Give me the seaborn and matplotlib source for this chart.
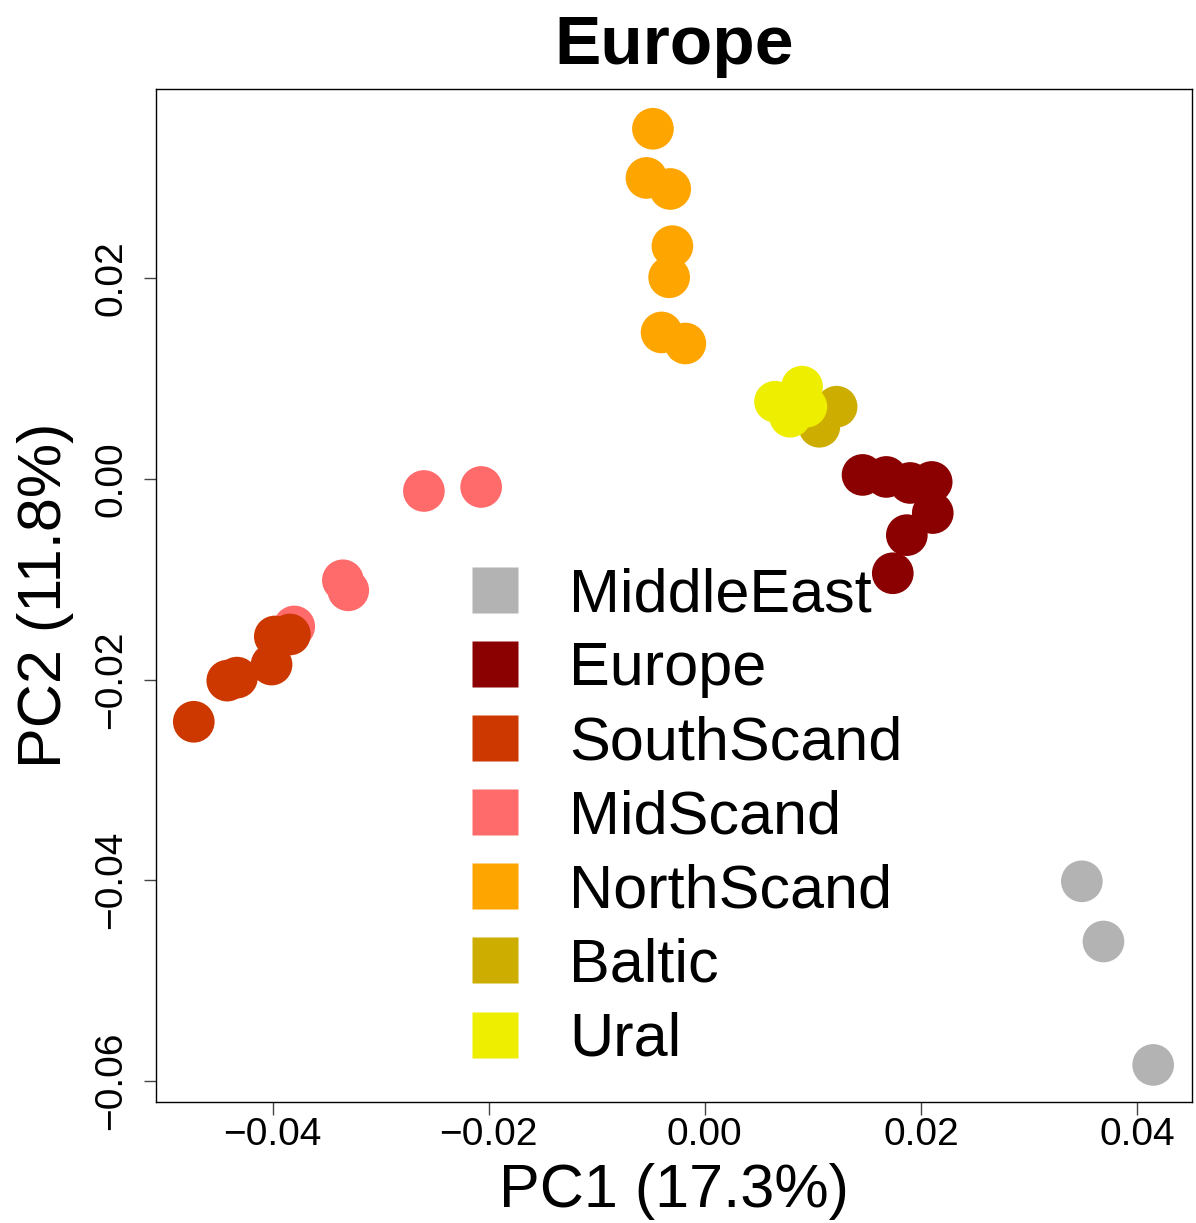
import matplotlib
matplotlib.use("Agg")
import matplotlib.pyplot as plt
from matplotlib.lines import Line2D
import seaborn as sns
import pandas as pd

groups = ["MiddleEast", "Europe", "SouthScand", "MidScand", "NorthScand", "Baltic", "Ural"]
colors = ["#B3B3B3", "#8B0000", "#CD3700", "#FF6A6A", "#FFA500", "#CDAD00", "#EEEE00"]

middleeast_x = [0.0349, 0.0369, 0.0415]
middleeast_y = [-0.0401, -0.0461, -0.0584]
europe_x = [0.0146, 0.0168, 0.0190, 0.0210, 0.0211, 0.0187, 0.0174]
europe_y = [0.0004, 0.0002, -0.0004, -0.0003, -0.0034, -0.0056, -0.0094]
midscand_x = [-0.0260, -0.0207, -0.0335, -0.0330, -0.0380]
midscand_y = [-0.0012, -0.0008, -0.0101, -0.0111, -0.0147]
southscand_x = [-0.0398, -0.0384, -0.0401, -0.0442, -0.0433, -0.0473]
southscand_y = [-0.0157, -0.0155, -0.0185, -0.0201, -0.0198, -0.0242]
northscand_x = [-0.0048, -0.0054, -0.0032, -0.0030, -0.0033, -0.0040, -0.0018]
northscand_y = [0.0349, 0.0300, 0.0289, 0.0232, 0.0201, 0.0146, 0.0135]
baltic_x = [0.0122, 0.0106]
baltic_y = [0.0072, 0.0052]
ural_x = [0.0065, 0.0090, 0.0079, 0.0094]
ural_y = [0.0077, 0.0092, 0.0062, 0.0072]

draw_order = [
    ("MiddleEast", middleeast_x, middleeast_y),
    ("Europe", europe_x, europe_y),
    ("MidScand", midscand_x, midscand_y),
    ("SouthScand", southscand_x, southscand_y),
    ("NorthScand", northscand_x, northscand_y),
    ("Baltic", baltic_x, baltic_y),
    ("Ural", ural_x, ural_y),
]
rows = []
for g, xs, ys in draw_order:
    for x, y in zip(xs, ys):
        rows.append({"PC1": x, "PC2": y, "group": g})
df = pd.DataFrame(rows)

sns.set_style("white")
plt.rcParams["font.family"] = ["Liberation Sans", "DejaVu Sans"]
plt.rcParams["text.color"] = "black"
plt.rcParams["axes.labelcolor"] = "black"

fig = plt.figure(figsize=(11.96, 12.23), dpi=100)
ax = fig.add_axes([0.1304, 0.0989, 0.8663, 0.8283])
palette = dict(zip(groups, colors))
sns.scatterplot(data=df, x="PC1", y="PC2", hue="group", palette=palette,
                s=900, edgecolor="none", linewidth=0, legend=False, ax=ax, alpha=1)

ax.set_xlim(-0.0508, 0.0451)
ax.set_ylim(-0.0621, 0.03886)
ax.set_xticks([-0.04, -0.02, 0.0, 0.02, 0.04])
ax.set_xticklabels(["\u22120.04", "\u22120.02", "0.00", "0.02", "0.04"])
ax.set_yticks([-0.06, -0.04, -0.02, 0.0, 0.02])
ax.set_yticklabels(["\u22120.06", "\u22120.04", "\u22120.02", "0.00", "0.02"], rotation=90, va="center")
ax.tick_params(axis="both", which="major", direction="out", length=9, width=1.0,
               labelsize=28, colors="#444444", labelcolor="black", left=True, bottom=True)
ax.tick_params(axis="x", pad=2)
ax.tick_params(axis="y", pad=10)
for sp in ax.spines.values():
    sp.set_visible(True)
    sp.set_color("black")
    sp.set_linewidth(1.0)
ax.set_xlabel("PC1 (17.3%)", fontsize=44, labelpad=7, color="black")
ax.set_ylabel("PC2 (11.8%)", fontsize=44, labelpad=14, color="black")
ax.set_title("Europe", fontsize=50, fontweight="bold", pad=18, color="black")

handles = [Line2D([0], [0], marker="s", linestyle="none", markersize=33,
                  markerfacecolor=c, markeredgecolor="none") for c in colors]
ax.legend(handles, groups, loc="upper left", bbox_to_anchor=(0.268, 0.552),
          frameon=False, fontsize=44, handletextpad=0.62, labelspacing=0.28,
          borderaxespad=0, handlelength=1.2)

fig.savefig("out.png", dpi=100)
